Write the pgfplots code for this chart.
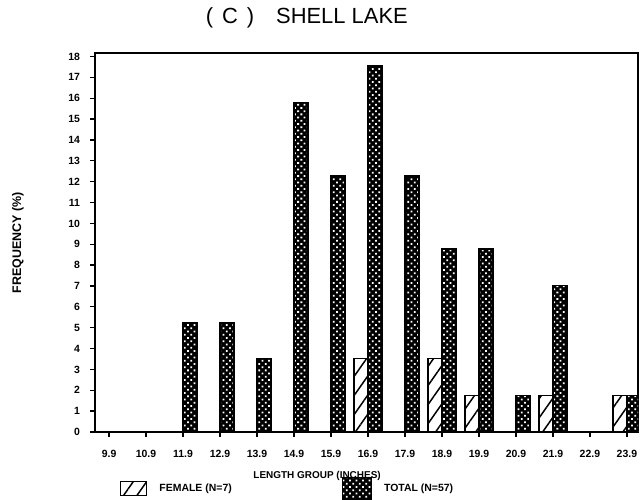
\documentclass[border=0pt]{standalone}
\usepackage{fontspec}
\setmainfont{Liberation Sans}
\usepackage{pgfplots}
\pgfplotsset{compat=1.18}
\usetikzlibrary{patterns.meta}
\pgfplotsset{
  femaleimg/.style={legend image code/.code={\draw[##1] (0bp,-7bp) rectangle (26bp,7bp);}},
  totalimg/.style={legend image code/.code={\draw[##1] (0bp,-11bp) rectangle (29bp,11bp);}},
}

\begin{document}
\begin{tikzpicture}
\useasboundingbox (0,0) rectangle (640bp,500bp);
\begin{axis}[
  at={(95bp,68bp)}, anchor=south west,
  scale only axis, width=543bp, height=379bp,
  ybar=0pt, bar width=0.38,
  xmin=-0.38, xmax=14.3, ymin=0, ymax=18.17,
  xtick={0,...,14},
  xticklabels={9.9,10.9,11.9,12.9,13.9,14.9,15.9,16.9,17.9,18.9,19.9,20.9,21.9,22.9,23.9},
  ytick={0,...,18},
  xtick pos=bottom, ytick pos=left,
  tick align=outside, major tick length=4.5bp,
  tick style={line width=1.3pt, black},
  axis line style={line width=1.6pt},
  /pgf/number format/assume math mode=true,
  tick label style={font=\fontsize{10.5}{12}\selectfont\bfseries},
  xticklabel style={yshift=-10bp},
  yticklabel style={xshift=-7bp},
  xlabel={LENGTH GROUP (INCHES)},
  ylabel={FREQUENCY (\%)},
  every axis x label/.style={at={(axis description cs:0.409,-0.116)}, anchor=center, font=\fontsize{10}{12}\selectfont\bfseries},
  every axis y label/.style={at={(axis description cs:-0.142,0.5)}, rotate=90, anchor=center, font=\fontsize{12.5}{14}\selectfont\bfseries},
  title={(\hspace{9bp}C\hspace{9bp})\hspace{22bp}SHELL LAKE},
  title style={at={(axis description cs:0.39,1.061)}, anchor=base, font=\fontsize{22}{26}\selectfont},
  legend style={at={(axis description cs:0.046,-0.15)}, anchor=west, draw=none, fill=none,
    inner sep=0pt, font=\fontsize{10.5}{12}\selectfont\bfseries,
    legend columns=2,
    /tikz/every odd column/.append style={column sep=10bp},
    /tikz/every even column/.append style={column sep=108bp}},
  legend cell align=left,
]
\addplot[draw=black, line width=1.3pt, fill=white,
  postaction={pattern={Lines[angle=55,distance=11pt,line width=1.5pt]}},
  femaleimg]
  coordinates {(7,3.51) (9,3.51) (10,1.75) (12,1.75) (14,1.75)};
\addplot[draw=black, line width=1.3pt, fill=black,
  postaction={pattern={Dots[distance=4.6pt,radius=1.25pt,angle=45]}, pattern color=white},
  totalimg]
  coordinates {(2,5.26) (3,5.26) (4,3.51) (5,15.79) (6,12.28) (7,17.54)
               (8,12.28) (9,8.77) (10,8.77) (11,1.75) (12,7.02) (14,1.75)};
\legend{FEMALE (N=7), TOTAL (N=57)}
\end{axis}
\end{tikzpicture}
\end{document}
